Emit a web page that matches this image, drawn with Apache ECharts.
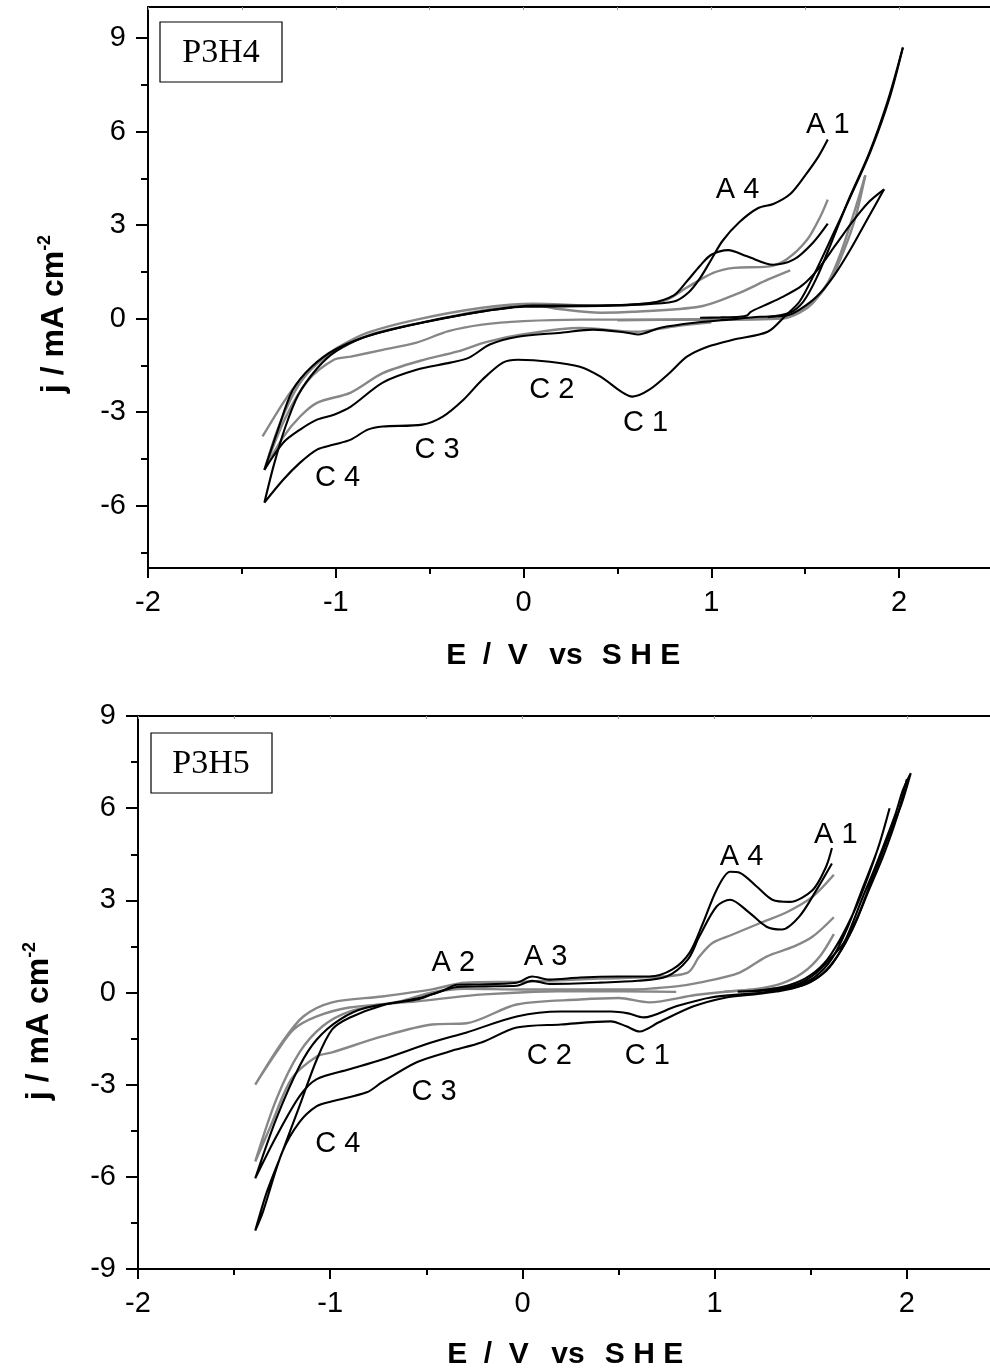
<!DOCTYPE html>
<html>
<head>
<meta charset="utf-8">
<script src="https://cdn.jsdelivr.net/npm/echarts@6/dist/echarts.min.js"></script>
<style>
  html, body { margin: 0; padding: 0; background: #fff; }
  #chart { width: 990px; height: 1372px; }
</style>
</head>
<body>
<div id="chart"></div>
<script>
// 刻度
var xTicks = [-2, -1, 0, 1, 2];
var topYTicks = [-6, -3, 0, 3, 6, 9];
var topYMinor = [-7.5, -4.5, -1.5, 1.5, 4.5, 7.5];

// P3H4 曲线 [E, j]
var topBlack1 = [
  [2.02, 8.7], [1.95, 7.1], [1.85, 5.4], [1.74, 3.9], [1.64, 2.6], [1.55, 1.45], [1.47, 0.55], [1.40, 0.13],
  [1.30, -0.42], [1.12, -0.67], [0.98, -0.9], [0.87, -1.22], [0.78, -1.73], [0.67, -2.28], [0.58, -2.5],
  [0.52, -2.34], [0.41, -1.86], [0.30, -1.54], [0.14, -1.38], [-0.03, -1.32], [-0.11, -1.41], [-0.22, -1.96],
  [-0.32, -2.6], [-0.43, -3.14], [-0.54, -3.4], [-0.75, -3.46], [-0.83, -3.56], [-0.92, -3.88], [-1.01, -4.04],
  [-1.10, -4.2], [-1.19, -4.62], [-1.28, -5.17], [-1.38, -5.9],
  [-1.33, -4.7], [-1.27, -3.5], [-1.2, -2.45], [-1.1, -1.6], [-1.0, -1.05], [-0.85, -0.6], [-0.6, -0.2],
  [-0.3, 0.15], [0.0, 0.38], [0.3, 0.4], [0.6, 0.45], [0.8, 0.55], [0.88, 0.85], [0.94, 1.3], [1.0, 1.9],
  [1.06, 2.5], [1.15, 3.1], [1.25, 3.55], [1.33, 3.68], [1.42, 4.0], [1.5, 4.6], [1.57, 5.2], [1.62, 5.75]
];
var topBlack2 = [
  [1.92, 4.15], [1.83, 3.18], [1.74, 2.21], [1.65, 1.35], [1.56, 0.7], [1.47, 0.29], [1.40, 0.1], [1.26, 0.06],
  [1.09, -0.03], [0.91, -0.13], [0.73, -0.29], [0.61, -0.51], [0.55, -0.45], [0.37, -0.35], [0.2, -0.45],
  [-0.03, -0.58], [-0.18, -0.83], [-0.29, -1.25], [-0.39, -1.41], [-0.57, -1.64], [-0.75, -2.05], [-0.92, -2.82],
  [-1.01, -3.08], [-1.10, -3.24], [-1.19, -3.56], [-1.28, -3.98], [-1.38, -4.85],
  [-1.31, -3.6], [-1.23, -2.3], [-1.13, -1.55], [-1.0, -0.98], [-0.8, -0.5], [-0.5, -0.08], [-0.2, 0.25],
  [0.05, 0.42], [0.4, 0.42], [0.67, 0.5], [0.8, 0.75], [0.87, 1.2], [0.94, 1.7], [1.0, 2.05], [1.09, 2.2],
  [1.19, 2.0], [1.33, 1.73], [1.44, 1.9], [1.54, 2.43], [1.62, 3.05]
];
var topBlack3 = [
  [0.94, 0.03], [1.05, 0.04], [1.15, 0.06], [1.19, 0.1], [1.21, 0.22], [1.28, 0.42], [1.38, 0.7], [1.48, 1.05],
  [1.57, 1.6], [1.66, 2.35], [1.75, 3.1], [1.84, 3.75], [1.92, 4.15]
];
var topBlack4 = [
  [1.3, 0.05], [1.42, 0.2], [1.49, 0.55], [1.56, 1.3], [1.64, 2.45], [1.73, 3.8], [1.84, 5.3], [1.94, 7.0], [2.02, 8.7]
];
var topGray1 = [
  [-1.39, -3.78], [-1.28, -2.7], [-1.19, -1.96], [-1.1, -1.4], [-0.99, -0.93], [-0.83, -0.45], [-0.57, -0.03],
  [-0.22, 0.35], [0.05, 0.48], [0.4, 0.42], [0.65, 0.48], [0.76, 0.6], [0.87, 1.0], [1.01, 1.47], [1.12, 1.63],
  [1.3, 1.67], [1.4, 1.9], [1.51, 2.53], [1.58, 3.27], [1.62, 3.82]
];
var topGray2 = [
  [1.82, 4.6], [1.76, 3.4], [1.69, 2.12], [1.62, 1.15], [1.54, 0.5], [1.47, 0.19], [1.38, 0.0], [1.0, -0.04],
  [0.6, -0.03], [0.3, -0.03], [0.0, -0.08], [-0.22, -0.19], [-0.4, -0.4], [-0.57, -0.77], [-0.75, -1.0],
  [-0.92, -1.22], [-1.01, -1.32], [-1.15, -2.0], [-1.27, -3.2], [-1.38, -4.85],
  [-1.3, -3.4], [-1.2, -2.15], [-1.1, -1.45], [-0.98, -0.97], [-0.8, -0.48], [-0.5, -0.07], [-0.2, 0.28],
  [0.05, 0.43], [0.2, 0.3], [0.41, 0.19], [0.58, 0.22], [0.94, 0.39], [1.15, 0.83], [1.3, 1.25], [1.42, 1.55]
];
var topGray3 = [
  [0.5, -0.05], [0.9, -0.02], [1.2, 0.0], [1.38, 0.05], [1.48, 0.28], [1.56, 0.65], [1.64, 1.3], [1.71, 2.25],
  [1.77, 3.3], [1.82, 4.6]
];
var topGray4 = [
  [1.0, -0.12], [0.8, -0.25], [0.6, -0.42], [0.3, -0.3], [0.0, -0.5], [-0.2, -0.75], [-0.35, -1.05], [-0.55, -1.35],
  [-0.75, -1.75], [-0.92, -2.37], [-1.1, -2.7], [-1.19, -3.14], [-1.28, -3.8], [-1.38, -4.85]
];
var topLabelNames = ['A 1', 'A 4', 'C 2', 'C 1', 'C 3', 'C 4'];
var topLabelPos = [[1.62, 6.22], [1.14, 4.14], [0.15, -2.28], [0.65, -3.34], [-0.46, -4.2], [-0.99, -5.1]];

// P3H5 曲线 [E, j]
var botYTicks = [-9, -6, -3, 0, 3, 6, 9];
var botBlack1 = [
  [1.12, 0.03], [1.25, 0.06], [1.36, 0.15], [1.46, 0.35], [1.54, 0.7], [1.6, 1.1], [1.67, 1.6], [1.72, 2.3],
  [1.77, 3.1], [1.83, 4.0], [1.88, 4.8], [1.94, 5.8], [1.98, 6.6], [2.02, 7.14],
  [1.97, 6.1], [1.9, 5.0], [1.82, 3.7], [1.74, 2.4], [1.66, 1.4], [1.58, 0.7], [1.45, 0.22], [1.32, 0.03],
  [1.19, -0.07], [1.06, -0.16], [0.89, -0.45], [0.71, -0.97], [0.61, -1.27], [0.54, -1.1], [0.46, -0.94],
  [0.2, -1.04], [-0.03, -1.14], [-0.21, -1.62], [-0.38, -1.92], [-0.55, -2.27], [-0.73, -2.92], [-0.81, -3.25],
  [-0.99, -3.54], [-1.07, -3.7], [-1.16, -4.22], [-1.25, -5.2], [-1.35, -7.14], [-1.39, -7.75],
  [-1.33, -6.5], [-1.25, -5.2], [-1.16, -3.7], [-1.07, -2.18], [-0.99, -1.2], [-0.9, -0.82], [-0.73, -0.42],
  [-0.55, -0.2], [-0.42, 0.05], [-0.34, 0.25], [-0.25, 0.26], [-0.03, 0.32], [0.05, 0.52], [0.14, 0.42],
  [0.3, 0.49], [0.5, 0.52], [0.66, 0.52], [0.78, 0.75], [0.87, 1.3], [0.94, 2.27], [1.01, 3.34], [1.08, 3.93],
  [1.13, 3.9], [1.22, 3.44], [1.30, 3.02], [1.39, 2.95], [1.51, 3.34], [1.58, 4.1], [1.61, 4.7]
];
var botBlack2 = [
  [2.0, 6.95], [1.95, 5.75], [1.88, 4.5], [1.8, 3.3], [1.72, 2.1], [1.64, 1.2], [1.56, 0.6], [1.48, 0.28],
  [1.4, 0.15], [1.25, 0.0], [0.98, -0.16], [0.8, -0.45], [0.63, -0.81], [0.55, -0.68], [0.46, -0.62], [0.2, -0.62],
  [-0.03, -0.78], [-0.29, -1.3], [-0.47, -1.62], [-0.73, -2.18], [-0.9, -2.5], [-1.07, -2.82], [-1.16, -3.38],
  [-1.28, -4.68], [-1.39, -6.05],
  [-1.28, -4.1], [-1.16, -2.4], [-1.07, -1.53], [-0.95, -0.88], [-0.81, -0.49], [-0.55, -0.23], [-0.47, -0.06],
  [-0.34, 0.18], [-0.2, 0.2], [-0.03, 0.22], [0.05, 0.38], [0.14, 0.28], [0.4, 0.32], [0.6, 0.38], [0.75, 0.52],
  [0.86, 1.07], [0.92, 1.82], [1.01, 2.8], [1.08, 3.02], [1.18, 2.6], [1.27, 2.14], [1.35, 2.05], [1.44, 2.47],
  [1.53, 3.34], [1.61, 4.2]
];
var botBlack3 = [
  [1.2, 0.05], [1.35, 0.18], [1.47, 0.45], [1.57, 0.95], [1.65, 1.7], [1.73, 2.7], [1.8, 3.8], [1.86, 4.9],
  [1.91, 6.0], [1.85, 4.7], [1.77, 3.4], [1.69, 2.1], [1.61, 1.1], [1.52, 0.5], [1.42, 0.22], [1.3, 0.1]
];
var botGray1 = [[1.05, 0.03], [1.2, 0.1], [1.35, 0.3], [1.46, 0.65], [1.55, 1.2], [1.62, 1.9]];
var botGray2 = [
  [1.35, 0.15], [1.1, 0.05], [0.9, -0.08], [0.66, -0.32], [0.5, -0.18], [0.3, -0.23], [-0.03, -0.39],
  [-0.29, -1.0], [-0.47, -1.04], [-0.73, -1.43], [-0.99, -1.95], [-1.07, -2.08], [-1.2, -2.8], [-1.31, -4.35],
  [-1.39, -5.5],
  [-1.28, -3.47], [-1.16, -1.95], [-1.04, -1.1], [-0.9, -0.62], [-0.64, -0.29], [-0.47, 0.0], [-0.3, 0.12],
  [0.0, 0.1], [0.3, 0.1], [0.57, 0.1], [0.8, 0.2], [0.92, 0.32], [1.13, 0.65], [1.27, 1.17], [1.41, 1.49],
  [1.51, 1.82], [1.62, 2.45]
];
var botGray3 = [
  [0.8, 0.02], [0.3, 0.05], [-0.2, -0.06], [-0.55, -0.29], [-0.9, -0.49], [-1.07, -0.78], [-1.19, -1.2],
  [-1.28, -1.95], [-1.39, -3.0],
  [-1.25, -1.62], [-1.14, -0.78], [-0.99, -0.32], [-0.73, -0.13], [-0.47, 0.1], [-0.3, 0.32], [0.0, 0.35],
  [0.4, 0.45], [0.66, 0.5], [0.86, 0.65], [0.92, 1.17], [0.99, 1.62], [1.09, 1.88], [1.24, 2.27], [1.38, 2.63],
  [1.51, 3.12], [1.62, 3.83]
];
var botLabelNames = ['A 1', 'A 4', 'A 2', 'A 3', 'C 2', 'C 1', 'C 3', 'C 4'];
var botLabelPos = [[1.63, 5.13], [1.14, 4.42], [-0.36, 0.97], [0.12, 1.14], [0.14, -2.08], [0.65, -2.08], [-0.46, -3.25], [-0.96, -4.94]];

var FONT = 'Liberation Sans, Arial, Helvetica, sans-serif';
var BLACK = '#000';
var GRAY = '#878787';

function curve (data, color, xi, yi) {
    return {
        type: 'line',
        xAxisIndex: xi,
        yAxisIndex: yi,
        data: data,
        showSymbol: false,
        symbol: 'none',
        smooth: 0.3,
        lineStyle: { color: color, width: color === GRAY ? 2.4 : 2.1 },
        z: color === GRAY ? 2 : 3,
        silent: true
    };
}

// 峰标注
function labelSeries (names, pos, xi, yi) {
    return {
        type: 'scatter',
        xAxisIndex: xi,
        yAxisIndex: yi,
        symbolSize: 0,
        itemStyle: { color: '#000', opacity: 1 },
        label: {
            show: true,
            position: 'inside',
            formatter: function (p) { return p.name; },
            fontFamily: FONT,
            fontSize: 29,
            color: '#000',
            opacity: 1,
            textBorderWidth: 0
        },
        labelLayout: { hideOverlap: false },
        data: names.map(function (n, i) { return { name: n, value: pos[i] }; }),
        z: 5,
        silent: true
    };
}

function bottomX (gi) {
    return {
        type: 'value', gridIndex: gi, position: 'bottom', min: -2, max: 2.5, interval: 1,
        axisLine: { onZero: false, lineStyle: { color: '#000', width: 2 } },
        axisTick: { inside: false, length: 10, lineStyle: { color: '#000', width: 2 } },
        minorTick: { show: true, splitNumber: 2, length: 6, lineStyle: { color: '#000', width: 2 } },
        axisLabel: { margin: 20, showMaxLabel: false, fontFamily: FONT, fontSize: 29, color: '#000' },
        splitLine: { show: false }
    };
}
function topX (gi) {
    return {
        type: 'value', gridIndex: gi, position: 'top', min: -2, max: 2.5, interval: 0.5,
        axisLine: { onZero: false, lineStyle: { color: '#000', width: 2 } },
        axisTick: { inside: true, length: 3, lineStyle: { color: '#999', width: 1 } },
        axisLabel: { show: false },
        splitLine: { show: false }
    };
}

var chart = echarts.init(document.getElementById('chart'), null, { renderer: 'canvas' });

var option = {
    animation: false,
    backgroundColor: '#fff',
    grid: [
        { left: 148, top: 7, width: 845, height: 561, containLabel: false, outerBoundsMode: 'none' },
        { left: 138, top: 716, width: 865, height: 553, containLabel: false, outerBoundsMode: 'none' }
    ],
    xAxis: [bottomX(0), topX(0), bottomX(1), topX(1)],
    yAxis: [
        {
            type: 'value', gridIndex: 0, min: -8, max: 10,
            axisLine: { show: true, onZero: false, lineStyle: { color: '#000', width: 2 } },
            axisTick: { show: true, length: 12, customValues: topYTicks, lineStyle: { color: '#000', width: 2 } },
            axisLabel: { margin: 22, customValues: topYTicks, fontFamily: FONT, fontSize: 29, color: '#000' },
            splitLine: { show: false }
        },
        {
            type: 'value', gridIndex: 0, min: -8, max: 10, position: 'left',
            axisLine: { show: false, onZero: false },
            axisTick: { show: true, length: 7, customValues: topYMinor, lineStyle: { color: '#000', width: 2 } },
            axisLabel: { show: false },
            splitLine: { show: false }
        },
        {
            type: 'value', gridIndex: 1, min: -9, max: 9, interval: 3,
            axisLine: { show: true, onZero: false, lineStyle: { color: '#000', width: 2 } },
            axisTick: { show: true, length: 12, lineStyle: { color: '#000', width: 2 } },
            minorTick: { show: true, splitNumber: 2, length: 7, lineStyle: { color: '#000', width: 2 } },
            axisLabel: { margin: 22, fontFamily: FONT, fontSize: 29, color: '#000' },
            splitLine: { show: false }
        }
    ],
    graphic: [
        // 样品框
        { type: 'rect', shape: { x: 160, y: 22, width: 122, height: 60 }, style: { fill: '#fff', stroke: '#000', lineWidth: 1.2 }, z: 10 },
        { type: 'text', x: 221, y: 53, style: { text: 'P3H4', font: '34px "Liberation Serif", "Times New Roman", serif', fill: '#000', align: 'center', verticalAlign: 'middle' }, z: 11 },
        { type: 'rect', shape: { x: 151, y: 733, width: 121, height: 60 }, style: { fill: '#fff', stroke: '#000', lineWidth: 1.2 }, z: 10 },
        { type: 'text', x: 211, y: 764, style: { text: 'P3H5', font: '34px "Liberation Serif", "Times New Roman", serif', fill: '#000', align: 'center', verticalAlign: 'middle' }, z: 11 },
        // y 轴标题
        {
            type: 'text', x: 54, y: 314, rotation: Math.PI / 2,
            style: {
                text: '{a|j / mA cm}{b|-2}', align: 'center', verticalAlign: 'middle', fill: '#000',
                rich: {
                    a: { fontFamily: FONT, fontWeight: 'bold', fontSize: 32, lineHeight: 36, fill: '#000' },
                    b: { fontFamily: FONT, fontWeight: 'bold', fontSize: 18, lineHeight: 16, verticalAlign: 'top', fill: '#000' }
                }
            }
        },
        {
            type: 'text', x: 39, y: 1021, rotation: Math.PI / 2,
            style: {
                text: '{a|j / mA cm}{b|-2}', align: 'center', verticalAlign: 'middle', fill: '#000',
                rich: {
                    a: { fontFamily: FONT, fontWeight: 'bold', fontSize: 32, lineHeight: 36, fill: '#000' },
                    b: { fontFamily: FONT, fontWeight: 'bold', fontSize: 18, lineHeight: 16, verticalAlign: 'top', fill: '#000' }
                }
            }
        },
        // x 轴标题
        { type: 'text', x: 487, y: 656, style: { text: 'E  /  V', font: 'bold 30px ' + FONT, fill: '#000', align: 'center', verticalAlign: 'middle' } },
        { type: 'text', x: 566, y: 656, style: { text: 'vs', font: 'bold 30px ' + FONT, fill: '#000', align: 'center', verticalAlign: 'middle' } },
        { type: 'text', x: 641, y: 656, style: { text: 'S H E', font: 'bold 30px ' + FONT, fill: '#000', align: 'center', verticalAlign: 'middle' } },
        { type: 'text', x: 488, y: 1355, style: { text: 'E  /  V', font: 'bold 30px ' + FONT, fill: '#000', align: 'center', verticalAlign: 'middle' } },
        { type: 'text', x: 568, y: 1355, style: { text: 'vs', font: 'bold 30px ' + FONT, fill: '#000', align: 'center', verticalAlign: 'middle' } },
        { type: 'text', x: 644, y: 1355, style: { text: 'S H E', font: 'bold 30px ' + FONT, fill: '#000', align: 'center', verticalAlign: 'middle' } }
    ],
    series: [
        curve(topGray1, GRAY, 0, 0),
        curve(topGray2, GRAY, 0, 0),
        curve(topGray3, GRAY, 0, 0),
        curve(topGray4, GRAY, 0, 0),
        curve(topBlack1, BLACK, 0, 0),
        curve(topBlack2, BLACK, 0, 0),
        curve(topBlack3, BLACK, 0, 0),
        curve(topBlack4, BLACK, 0, 0),
        labelSeries(topLabelNames, topLabelPos, 0, 0),
        curve(botGray1, GRAY, 2, 2),
        curve(botGray2, GRAY, 2, 2),
        curve(botGray3, GRAY, 2, 2),
        curve(botBlack1, BLACK, 2, 2),
        curve(botBlack2, BLACK, 2, 2),
        curve(botBlack3, BLACK, 2, 2),
        labelSeries(botLabelNames, botLabelPos, 2, 2)
    ]
};

chart.setOption(option);
window.onresize = function () {
    chart.resize();
};
</script>
</body>
</html>
